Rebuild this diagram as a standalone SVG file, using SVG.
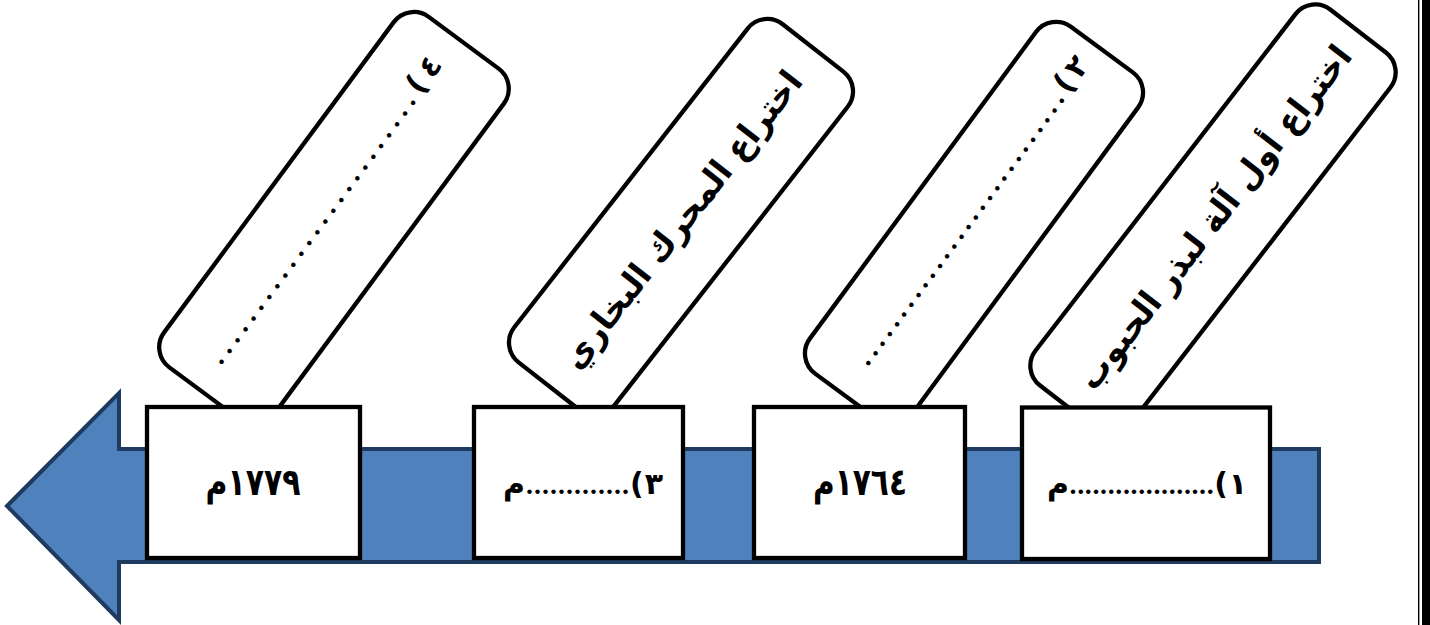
<svg xmlns="http://www.w3.org/2000/svg" width="1430" height="625" viewBox="0 0 1430 625">
<style>
.shape { fill: #ffffff; stroke: #000000; stroke-width: 4.3; }
text { font-family: "DejaVu Sans", sans-serif; font-weight: bold; fill: #000000; direction: rtl; text-anchor: middle; }
.lbl { font-size: 34px; }
.num { font-size: 30px; }
.yr { font-size: 38px; }
.dots { font-family: "Liberation Serif", serif; font-size: 28px; font-weight: bold; }
</style>
<rect x="0" y="0" width="1430" height="625" fill="#ffffff"/>
<g id="timeline-arrow">
<polygon points="7,506 119,393 119,449 1319,449 1319,562 119,562 119,620" fill="#4F81BD" stroke="#1F3A5F" stroke-width="4"/>
</g>
<g id="connectors"></g>
<g id="callout-4" transform="translate(334,218) rotate(-53.5)">
<rect class="shape" x="-218" y="-68.5" width="436" height="137" rx="25"/>
<text class="num" x="1" y="-3" textLength="374" lengthAdjust="spacing">٤)<tspan class="dots">.........................</tspan></text>
</g>
<g id="callout-3" transform="translate(681,217) rotate(-52)">
<rect class="shape" x="-214.5" y="-63.5" width="429" height="127" rx="25"/>
<text class="lbl" x="-1.5" y="14" textLength="367" lengthAdjust="spacingAndGlyphs">اختراع المحرك البخاري</text>
</g>
<g id="callout-2" transform="translate(974,223) rotate(-53.6)">
<rect class="shape" x="-215.5" y="-63.5" width="431" height="127" rx="25"/>
<text class="num" x="8.5" y="0" textLength="375" lengthAdjust="spacing">٢)<tspan class="dots">............................</tspan></text>
</g>
<g id="callout-1" transform="translate(1213,219) rotate(-52.3)">
<rect class="shape" x="-237.5" y="-60" width="475" height="120" rx="25"/>
<text class="lbl" x="2.4" y="12" textLength="424" lengthAdjust="spacingAndGlyphs">اختراع أول آلة لبذر الحبوب</text>
</g>
<g id="box-1779">
<rect class="shape" x="147" y="407" width="213" height="151"/>
<text class="yr" x="253" y="495" textLength="95" lengthAdjust="spacingAndGlyphs">١٧٧٩م</text>
</g>
<g id="box-3">
<rect class="shape" x="474" y="407" width="209" height="151"/>
<text class="num" x="583" y="494" textLength="160" lengthAdjust="spacing">٣)<tspan class="dots">.............</tspan>م</text>
</g>
<g id="box-1764">
<rect class="shape" x="754" y="407" width="211" height="151"/>
<text class="yr" x="860" y="495" textLength="94" lengthAdjust="spacingAndGlyphs">١٧٦٤م</text>
</g>
<g id="box-1">
<rect class="shape" x="1022" y="407.5" width="248" height="151.5"/>
<text class="num" x="1147" y="494" textLength="200" lengthAdjust="spacing">١)<tspan class="dots">...................</tspan>م</text>
</g>
<g id="page-border">
<rect x="1418" y="0" width="1.4" height="625" fill="#000000"/>
<rect x="1422" y="0" width="8" height="625" fill="#000000"/>
</g>
</svg>
